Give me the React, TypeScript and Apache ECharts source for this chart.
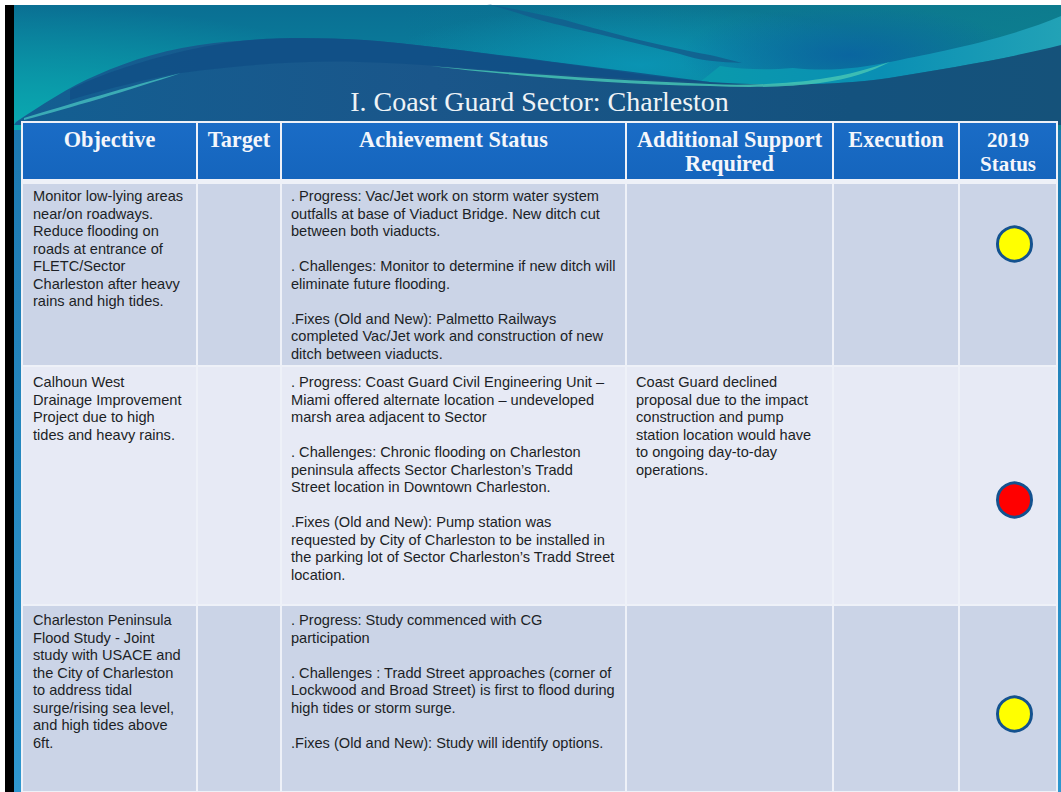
import React, { useEffect, useRef } from "react";
import * as echarts from "echarts";

const title = "I. Coast Guard Sector: Charleston";
const headers = [["Objective"], ["Target"], ["Achievement Status"], ["Additional Support", "Required"], ["Execution"], ["2019", "Status"]];

const objectives = [
  ["Monitor low-lying areas", "near/on roadways.", "Reduce flooding on", "roads at entrance of", "FLETC/Sector", "Charleston after heavy", "rains and high tides."],
  ["Calhoun West", "Drainage Improvement", "Project due to high", "tides and heavy rains."],
  ["Charleston Peninsula", "Flood Study - Joint", "study with USACE and", "the City of Charleston", "to address tidal", "surge/rising sea level,", "and high tides above", "6ft."],
];
const achievements = [
  [". Progress: Vac/Jet work on storm water system", "outfalls at base of Viaduct Bridge. New ditch cut", "between both viaducts.", "", ". Challenges: Monitor to determine if new ditch will", "eliminate future flooding.", "", ".Fixes (Old and New): Palmetto Railways", "completed Vac/Jet work and construction of new", "ditch between viaducts."],
  [". Progress: Coast Guard Civil Engineering Unit –", "Miami offered alternate location – undeveloped", "marsh area adjacent to Sector", "", ". Challenges: Chronic flooding on Charleston", "peninsula affects Sector Charleston’s Tradd", "Street location in Downtown Charleston.", "", ".Fixes (Old and New): Pump station was", "requested by City of Charleston to be installed in", "the parking lot of Sector Charleston’s Tradd Street", "location."],
  [". Progress: Study commenced with CG", "participation", "", ". Challenges : Tradd Street approaches (corner of", "Lockwood and Broad Street) is first to flood during", "high tides or storm surge.", "", ".Fixes (Old and New): Study will identify options."],
];
const support = [
  [],
  ["Coast Guard declined", "proposal due to the impact", "construction and pump", "station location would have", "to ongoing day-to-day", "operations."],
  [],
];
const statusColors = ["#ffff00", "#ff0000", "#ffff00"];

const W = 1061, H = 792;
const colEdges = [22, 197, 281, 626, 833, 959, 1057];
const rowEdges = [183, 366, 605, 792];
const textStart = [196, 382, 620];
const statusY = [244, 500, 714];
const statusX = 1014.5;
const LH = 17.5;

const waves: Record<string, string> = {
  waveRightBand: "M720 66 C745 70 770 70 793 68 C830 72 860 68 890 62 C925 54 1000 42 1061 16 L1061 46 C1010 58 950 68 889 78 C860 82 830 84 803 84 C770 86 740 84 700 82 Z",
  waveStreak: "M487 4 C520 10 545 15 565 20 C600 30 650 44 710 55 C720 57 730 60 742 63 C720 62 700 61 680 54 C640 44 590 32 555 24 C530 18 510 10 487 4 Z",
  waveDark: "M16 122 C40 106 70 86 97 75 C130 60 170 48 214 43 C250 39 300 37 364 40 C430 45 500 56 560 63 C610 70 660 78 710 82 C740 84 780 85 803 84 C830 84 860 82 889 78 C950 68 1010 58 1061 45 L1061 125 L14 125 Z",
  waveInner: "M70 90 C90 78 170 48 250 40 C290 37 330 38 364 40 C430 45 560 63 710 82 C640 80 560 74 510 72 C470 68 420 64 360 62 C300 60 230 66 181 73 C150 78 110 88 70 100 Z",
  waveLineLeft: "M24 118 C70 104 130 86 181 73 C130 90 70 108 24 120 Z",
  waveLineRight: "M430 66 C500 72 600 80 710 84 C750 86 795 83 820 79 C850 75 870 68 890 62 C870 72 850 79 820 83 C790 87 750 88 710 86 C600 84 500 74 430 66 Z",
};
Object.keys(waves).forEach((k) => echarts.graphic.registerShape(k, echarts.graphic.extendPath(waves[k], {})));

const grad = (x2: number, y2: number, stops: [number, string][]) =>
  new echarts.graphic.LinearGradient(0, 0, x2, y2, stops.map(([offset, color]) => ({ offset, color })));
const glow = (cx: number, cy: number, r: number, rgb: string, alpha: number) =>
  new echarts.graphic.RadialGradient(cx, cy, r, [
    { offset: 0, color: `rgba(${rgb},${alpha})` },
    { offset: 1, color: `rgba(${rgb},0)` },
  ]);

function buildGraphic() {
  const els: any[] = [];
  const rect = (x: number, y: number, w: number, h: number, fill: any) =>
    els.push({ type: "rect", shape: { x, y, width: w, height: h }, style: { fill }, silent: true });
  const txt = (text: string, x: number, y: number, font: string, fill: string, align = "left") =>
    els.push({ type: "text", x, y, style: { text, font, fill, align, verticalAlign: "middle" }, silent: true });
  const wave = (type: string, fill: any, opacity = 1) =>
    els.push({ type, style: { fill, opacity }, silent: true });

  rect(0, 0, W, H, "#ffffff");
  rect(5, 5, 9, H, "#000000");
  rect(14, 122, W - 14, H - 122, grad(0, 1, [[0, "#1c78b0"], [1, "#2f97cf"]]));
  rect(14, 5, W - 14, 125, grad(0, 1, [[0, "#0a6f93"], [0.5, "#0a7e9c"], [1, "#0a8fa8"]]));
  rect(400, 5, W - 400, 125, grad(1, 0, [[0, "rgba(14,128,140,0)"], [1, "rgba(14,128,140,0.75)"]]));
  rect(14, 5, 420, 125, glow(0, 1, 1, "10,170,176", 0.95));
  rect(380, 5, 520, 120, glow(0.5, 0.5, 0.5, "10,150,182", 0.9));
  rect(680, 5, 340, 100, glow(0.5, 0.5, 0.5, "10,100,160", 0.95));
  wave("waveRightBand", grad(1, 0, [[0, "#0a9aac"], [0.5, "#0a8fb4"], [1, "#22a2b6"]]));
  wave("waveStreak", "#125f8e", 0.9);
  wave("waveDark", grad(1, 0, [[0, "#135f92"], [0.4, "#1a568a"], [0.8, "#14527e"], [1, "#15527a"]]));
  wave("waveInner", "#114f86", 0.85);
  wave("waveLineLeft", "#42b8bc", 0.85);
  wave("waveLineRight", "#45c4b4", 0.85);

  // table
  rect(colEdges[0] - 1, 121, colEdges[6] - colEdges[0] + 2, H - 121, "#eef1f8");
  colEdges.slice(0, -1).forEach((x0, c) => {
    const x1 = colEdges[c + 1];
    rect(x0 + 1, 123, x1 - x0 - 2, 56, grad(0, 1, [[0, "#1a6cc6"], [1, "#1565bd"]]));
    rowEdges.slice(0, -1).forEach((y0, r) => {
      const y1 = rowEdges[r + 1];
      rect(x0 + 1, y0 + 1, x1 - x0 - 2, y1 - y0 - 2, r === 1 ? "#e7eaf5" : "#cbd4e7");
    });
    const cx = (x0 + x1) / 2;
    headers[c].forEach((line, i) => {
      txt(line, cx, 139.5 + i * 24, `bold ${c === 5 ? 21 : 22.3}px "Liberation Serif"`, "#f4f6fb", "center");
    });
  });
  txt(title, 539.5, 101.5, '28px "Liberation Serif"', "#eef3f6", "center");

  const body = '14.6px "Liberation Sans"';
  const ink = "#1c1f26";
  [objectives, achievements, support].forEach((col, k) => {
    const x = [33, 291, 636][k];
    col.forEach((lines, r) =>
      lines.forEach((line, i) => {
        if (line) txt(line, x, textStart[r] + i * LH, body, ink);
      })
    );
  });
  return els;
}

export default function App() {
  const ref = useRef<HTMLDivElement>(null);
  useEffect(() => {
    document.body.style.margin = "0";
    const chart = echarts.init(ref.current!, undefined, { renderer: "svg" });
    chart.setOption({
      animation: false,
      grid: { left: 0, top: 0, width: W, height: H },
      xAxis: { type: "value", min: 0, max: W, show: false },
      yAxis: { type: "value", min: 0, max: H, inverse: true, show: false },
      graphic: { elements: buildGraphic() },
      series: [
        {
          type: "scatter",
          z: 10,
          symbol: "circle",
          symbolSize: 34,
          silent: true,
          data: statusColors.map((c, i) => ({
            value: [statusX, statusY[i]],
            itemStyle: { color: c, opacity: 1, borderColor: "#14528f", borderWidth: 3 },
          })),
        },
      ],
    });
    return () => chart.dispose();
  }, []);
  return <div ref={ref} style={{ width: W, height: H }} />;
}
